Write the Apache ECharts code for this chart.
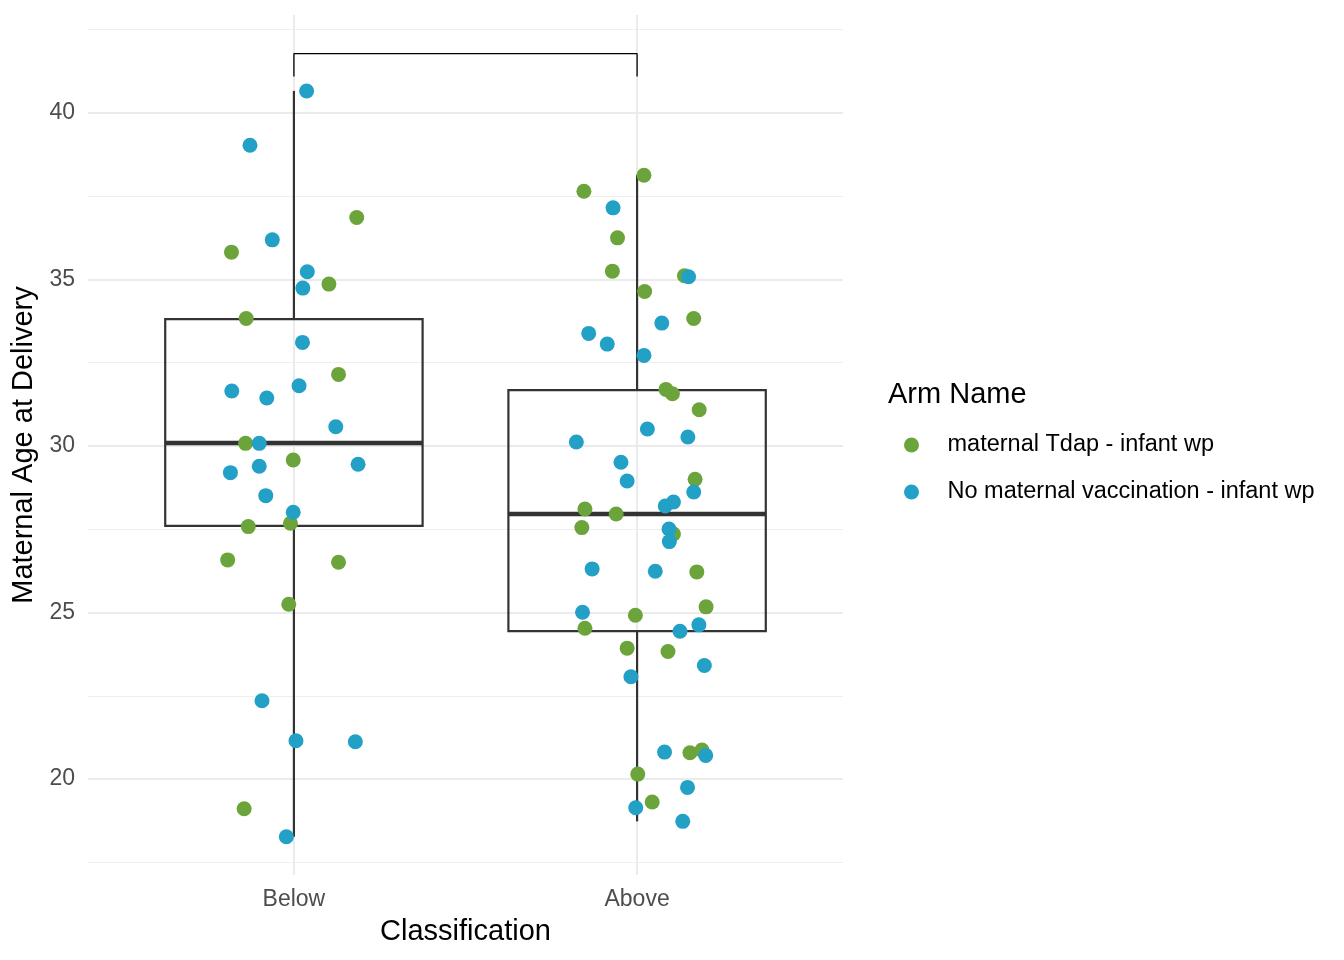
<!DOCTYPE html>
<html>
<head>
<meta charset="utf-8">
<script src="https://cdn.jsdelivr.net/npm/echarts@6/dist/echarts.min.js"></script>
<style>
  html, body { margin: 0; padding: 0; background: #fff; }
  #chart { width: 1344px; height: 960px; }
</style>
</head>
<body>
<div id="chart"></div>
<script>
// categories sit at x = 1 (Below) and x = 2 (Above)
var categories = ['Below', 'Above'];
var categoryPos = [1, 2];

// box plot summaries, one entry per category
var boxMin = [18.27, 18.73];
var boxQ1 = [27.60, 24.44];
var boxMedian = [30.09, 27.96];
var boxQ3 = [33.81, 31.68];
var boxMax = [40.66, 38.14];

// jittered points: x position (category + jitter) and age
var tdapX = [1.183, 0.818, 1.102, 0.861, 1.130, 0.859, 0.998, 0.990, 0.867, 0.807, 1.130, 0.985, 0.855,
  2.020, 1.845, 1.943, 1.928, 2.138, 2.022, 2.165, 2.084, 2.103, 2.181, 2.169, 1.848, 1.939, 1.839,
  2.106, 2.174, 2.201, 1.995, 1.848, 1.971, 2.090, 2.154, 2.189, 2.002, 2.044];
var tdapAge = [36.86, 35.82, 34.86, 33.83, 32.15, 30.08, 29.58, 27.68, 27.58, 26.58, 26.51, 25.25, 19.11,
  38.13, 37.65, 36.25, 35.25, 35.11, 34.64, 33.83, 31.70, 31.57, 31.09, 29.00, 28.11, 27.96, 27.55,
  27.36, 26.22, 25.17, 24.92, 24.53, 23.93, 23.83, 20.79, 20.87, 20.15, 19.31];

var novaxX = [1.037, 0.872, 0.937, 1.039, 1.026, 1.025, 0.819, 1.015, 0.921, 1.122, 0.899, 1.187, 0.815,
  0.899, 0.918, 0.998, 0.907, 1.006, 1.179, 0.978,
  1.930, 2.150, 2.072, 1.859, 1.913, 2.020, 2.030, 1.823, 2.148, 1.953, 1.971, 2.165, 2.106, 2.082,
  2.093, 2.094, 1.869, 2.053, 1.841, 2.180, 2.125, 2.196, 1.982, 2.080, 2.200, 2.147, 1.996, 2.133];
var novaxAge = [40.66, 39.03, 36.19, 35.23, 34.74, 33.11, 31.65, 31.81, 31.44, 30.58, 30.08, 29.45, 29.20,
  29.39, 28.51, 28.01, 22.35, 21.15, 21.12, 18.27,
  37.15, 35.08, 33.69, 33.38, 33.06, 32.72, 30.51, 30.12, 30.27, 29.51, 28.95, 28.62, 28.32, 28.20,
  27.51, 27.13, 26.31, 26.24, 25.01, 24.63, 24.44, 23.41, 23.07, 20.81, 20.71, 19.75, 19.14, 18.73];

// significance bracket between the two groups
var bracketX = [1, 1, 2, 2];
var bracketY = [41.09, 41.78, 41.78, 41.09];

// axis ticks
var yMajorTicks = [20, 25, 30, 35, 40];
var yMinorTicks = [17.5, 22.5, 27.5, 32.5, 37.5, 42.5];

var FONT = '"Liberation Sans", Arial, sans-serif';
var GREEN = '#6ca43c';
var BLUE = '#22a0c6';

function zip(xs, ys) {
  return xs.map(function (x, i) { return [x, ys[i]]; });
}

var boxData = categoryPos.map(function (x, i) {
  return [x, boxMin[i], boxQ1[i], boxMedian[i], boxQ3[i], boxMax[i]];
});

var chart = echarts.init(document.getElementById('chart'));

var option = {
  backgroundColor: '#ffffff',
  animation: false,
  title: {
    text: 'Arm Name',
    left: 888,
    top: 380,
    padding: 0,
    textStyle: { fontFamily: FONT, fontSize: 29, fontWeight: 'normal', color: '#000' }
  },
  legend: {
    orient: 'vertical',
    left: 904,
    top: 433,
    padding: 0,
    itemWidth: 62,
    itemHeight: 15,
    itemGap: 23,
    icon: 'circle',
    data: ['maternal Tdap - infant wp', 'No maternal vaccination - infant wp'],
    textStyle: { fontFamily: FONT, fontSize: 23.5, color: '#000' }
  },
  grid: { left: 88, top: 15, width: 755, height: 860 },
  xAxis: {
    type: 'value',
    min: 0.4,
    max: 2.6,
    name: 'Classification',
    nameLocation: 'middle',
    nameGap: 42,
    nameTextStyle: { fontFamily: FONT, fontSize: 29, color: '#000' },
    axisLine: { show: false },
    axisTick: { show: false, customValues: categoryPos },
    axisLabel: {
      customValues: categoryPos,
      margin: 13,
      fontFamily: FONT,
      fontSize: 23,
      color: '#4d4d4d',
      formatter: function (v) { return categories[categoryPos.indexOf(v)] || ''; }
    },
    splitLine: { show: true, lineStyle: { color: '#ebebeb', width: 2 } }
  },
  yAxis: [
    {
      type: 'value',
      min: 17.12,
      max: 42.94,
      name: 'Maternal Age at Delivery',
      nameLocation: 'middle',
      nameGap: 43,
      nameRotate: 90,
      nameTextStyle: { fontFamily: FONT, fontSize: 29, color: '#000' },
      axisLine: { show: false },
      axisTick: { show: false, customValues: yMajorTicks },
      axisLabel: {
        customValues: yMajorTicks,
        margin: 13,
        fontFamily: FONT,
        fontSize: 23,
        color: '#4d4d4d',
        padding: [4, 0, 0, 0]
      },
      splitLine: { show: true, lineStyle: { color: '#ebebeb', width: 2 } }
    },
    {
      type: 'value',
      min: 17.12,
      max: 42.94,
      axisLine: { show: false },
      axisTick: { show: false, customValues: yMinorTicks },
      axisLabel: { show: false, customValues: yMinorTicks },
      splitLine: { show: true, lineStyle: { color: '#efefef', width: 1.1 } }
    }
  ],
  series: [
    {
      name: 'box',
      type: 'custom',
      z: 2,
      silent: true,
      encode: { x: 0, y: [1, 2, 3, 4, 5] },
      data: boxData,
      renderItem: function (params, api) {
        var x = api.value(0);
        var half = 0.375;
        var left = api.coord([x - half, api.value(2)]);
        var right = api.coord([x + half, api.value(4)]);
        var med = api.coord([x, api.value(3)]);
        var lo = api.coord([x, api.value(1)]);
        var hi = api.coord([x, api.value(5)]);
        var stroke = '#333333';
        return {
          type: 'group',
          children: [
            { type: 'line', shape: { x1: lo[0], y1: lo[1], x2: lo[0], y2: left[1] },
              style: { stroke: stroke, lineWidth: 2.2 } },
            { type: 'line', shape: { x1: hi[0], y1: right[1], x2: hi[0], y2: hi[1] },
              style: { stroke: stroke, lineWidth: 2.2 } },
            { type: 'rect', shape: { x: left[0], y: right[1], width: right[0] - left[0], height: left[1] - right[1] },
              style: { fill: 'none', stroke: stroke, lineWidth: 2.2 } },
            { type: 'line', shape: { x1: left[0], y1: med[1], x2: right[0], y2: med[1] },
              style: { stroke: stroke, lineWidth: 4.5 } }
          ]
        };
      }
    },
    {
      name: 'maternal Tdap - infant wp',
      type: 'scatter',
      z: 3,
      symbolSize: 15,
      itemStyle: { color: GREEN, opacity: 1 },
      data: zip(tdapX, tdapAge)
    },
    {
      name: 'No maternal vaccination - infant wp',
      type: 'scatter',
      z: 4,
      symbolSize: 15,
      itemStyle: { color: BLUE, opacity: 1 },
      data: zip(novaxX, novaxAge)
    },
    {
      name: 'bracket',
      type: 'line',
      z: 5,
      silent: true,
      symbol: 'none',
      lineStyle: { color: '#000', width: 1.3 },
      data: zip(bracketX, bracketY)
    }
  ]
};

chart.setOption(option);
</script>
</body>
</html>
